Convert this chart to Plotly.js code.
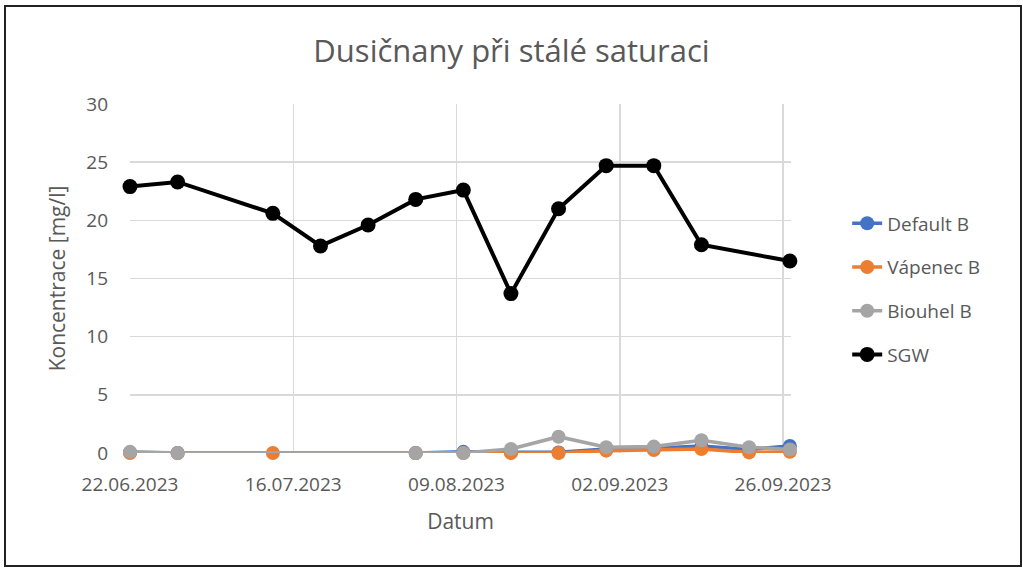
<!DOCTYPE html>
<html>
<head>
<meta charset="utf-8">
<script src="https://cdn.plot.ly/plotly-3.0.1.min.js"></script>
<style>
html,body{margin:0;padding:0;background:#fff;}
#wrap{position:relative;width:1023px;height:569px;}
#chart{position:absolute;left:0;top:0;width:1023px;height:569px;}
#frame{position:absolute;left:4px;top:5px;width:1014px;height:558px;border:2px solid #222;pointer-events:none;}
</style>
</head>
<body>
<div id="wrap"><div id="chart"></div><div id="frame"></div></div>
<script>
const dates = ['2023-06-22','2023-06-29','2023-07-13','2023-07-20','2023-07-27','2023-08-03','2023-08-10','2023-08-17','2023-08-24','2023-08-31','2023-09-07','2023-09-14','2023-09-21','2023-09-27'];
const defaultB = [0.05, 0, null, null, null, 0, 0.1, 0.05, 0.05, 0.35, 0.4, 0.6, 0.3, 0.6];
const vapenecB = [0, 0, 0, null, null, 0, 0, 0, 0, 0.2, 0.25, 0.35, 0.05, 0.1];
const biouhelB = [0.1, 0, null, null, null, 0, 0, 0.35, 1.4, 0.5, 0.55, 1.1, 0.5, 0.3];
const sgw = [22.9, 23.3, 20.6, 17.8, 19.6, 21.8, 22.6, 13.7, 21.0, 24.7, 24.7, 17.9, null, 16.5];
const names = ['Default B','Vápenec B','Biouhel B','SGW'];
const colors = ['#4472C4','#ED7D31','#A5A5A5','#000000'];
const series = [defaultB, vapenecB, biouhelB, sgw];

const traces = series.map((s,i)=>({
  x: dates, y: s, name: names[i], type:'scatter', mode:'lines+markers',
  connectgaps: true, legendgroup: 'g'+i, cliponaxis:false,
  line:{color:colors[i], width: i===3?4:3.6},
  marker:{color:colors[i], size: i===3?15:14}
}));

const font = "Open Sans, Liberation Sans, sans-serif";
const layout = {
  width:1023, height:569,
  margin:{l:130, r:232, t:104, b:116},
  paper_bgcolor:'#fff', plot_bgcolor:'#fff',
  font:{family:font, color:'#595959', size:19},
  title:{text:'Dusičnany při stálé saturaci', x:0.5, xref:'container', xanchor:'center', y:0.91, yanchor:'middle', yref:'container',
         font:{family:font, size:31, color:'#595959'}},
  xaxis:{
    type:'date', range:['2023-06-22','2023-09-27 04:00'],
    tick0:'2023-06-22', dtick:24*86400000, tickformat:'%d.%m.%Y',
    showgrid:true, gridcolor:'#D9D9D9', gridwidth:1.5,
    zeroline:false, showline:false, ticks:'', ticklen:0, ticklabelstandoff:18,
    tickfont:{size:19, color:'#595959'},
    title:{text:'Datum', font:{size:21, color:'#595959'}, standoff:18}
  },
  yaxis:{
    range:[0,30], dtick:5, tick0:0,
    showgrid:true, gridcolor:'#D9D9D9', gridwidth:1.5,
    zeroline:false, showline:false, ticks:'', ticklabelstandoff:21,
    tickfont:{size:19, color:'#595959'},
    title:{text:'Koncentrace [mg/l]', font:{size:21, color:'#595959'}, standoff:14}
  },
  legend:{x:1.085, xanchor:'left', y:0.47, yanchor:'middle', traceorder:'grouped', tracegroupgap:16,
          font:{size:19, color:'#595959'}, bgcolor:'rgba(0,0,0,0)'},
  showlegend:true
};
Plotly.newPlot('chart', traces, layout, {displayModeBar:false, staticPlot:true});
</script>
</body>
</html>
